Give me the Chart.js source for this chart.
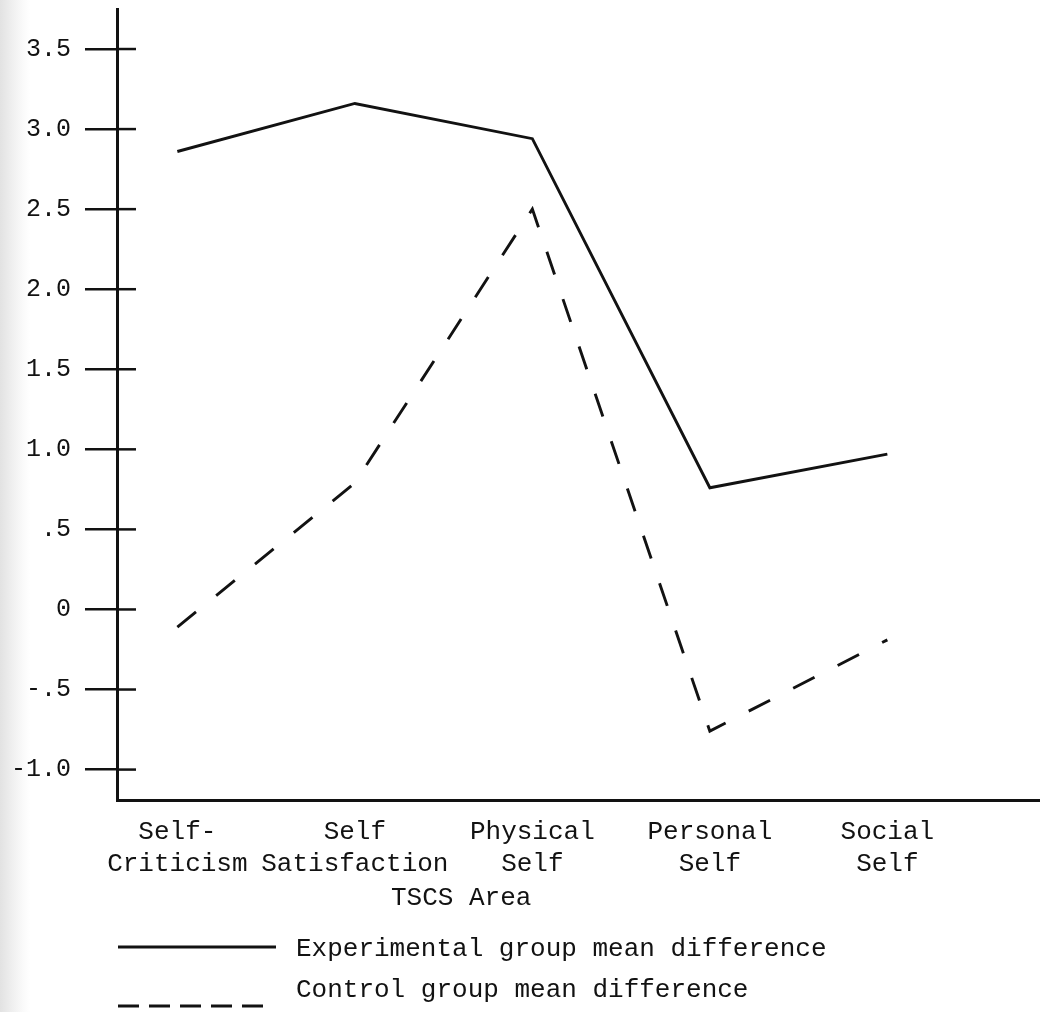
<!DOCTYPE html>
<html>
<head>
<meta charset="utf-8">
<script src="https://cdn.jsdelivr.net/npm/chart.js@4.4.1/dist/chart.umd.min.js"></script>
<style>
  html, body { margin: 0; padding: 0; }
  body {
    width: 1040px; height: 1012px; overflow: hidden;
    background: linear-gradient(to right, #e2e2e2 0px, #efefef 12px, #fbfbfb 24px, #ffffff 30px);
  }
  #chart { display: block; }
</style>
</head>
<body>
<canvas id="chart" width="1040" height="1012"></canvas>
<script>
// TSCS areas (x axis)
const areas = [
  ['Self-', 'Criticism'],
  ['Self', 'Satisfaction'],
  ['Physical', 'Self'],
  ['Personal', 'Self'],
  ['Social', 'Self']
];
// mean differences
const experimental = [2.86, 3.16, 2.94, 0.76, 0.97];
const control = [-0.11, 0.79, 2.50, -0.76, -0.19];

const yTickValues = [3.5, 3.0, 2.5, 2.0, 1.5, 1.0, 0.5, 0, -0.5, -1.0];
const yTickLabels = ['3.5', '3.0', '2.5', '2.0', '1.5', '1.0', '.5', '0', '-.5', '-1.0'];

const axisTitle = 'TSCS Area';
const seriesNames = ['Experimental group mean difference', 'Control group mean difference'];

const ink = '#121212';
const mono = '"Liberation Mono", "DejaVu Sans Mono", monospace';

function points(values) {
    return values.map((v, i) => ({ x: i, y: v }));
}

// tick stubs inside the axis, axis title and the key underneath
const extras = {
    id: 'extras',
    afterDraw(chart) {
        const ctx = chart.ctx;
        const y = chart.scales.y;
        const area = chart.chartArea;
        ctx.save();
        ctx.strokeStyle = ink;
        ctx.lineWidth = 2.5;
        yTickValues.forEach((v) => {
            const py = y.getPixelForValue(v);
            ctx.beginPath();
            ctx.moveTo(area.left, py);
            ctx.lineTo(area.left + 19, py);
            ctx.stroke();
        });

        ctx.fillStyle = ink;
        ctx.font = '26px ' + mono;
        ctx.textBaseline = 'alphabetic';
        ctx.textAlign = 'left';
        ctx.fillText(axisTitle, 391, 905);

        // key: solid sample beside the first name, dashes below the second
        const rows = [
            { lineY: 947, textY: 956, end: 276, dash: [] },
            { lineY: 1006, textY: 997, end: 263, dash: [21, 10] }
        ];
        chart.data.datasets.forEach((ds, i) => {
            ctx.beginPath();
            ctx.setLineDash(rows[i].dash);
            ctx.lineWidth = ds.borderWidth;
            ctx.moveTo(118, rows[i].lineY);
            ctx.lineTo(rows[i].end, rows[i].lineY);
            ctx.stroke();
            ctx.setLineDash([]);
            ctx.fillText(ds.label, 296, rows[i].textY);
        });
        ctx.restore();
    }
};

const ctx = document.getElementById('chart').getContext('2d');
const myChart = new Chart(ctx, {
    type: 'line',
    data: {
        datasets: [{
            label: seriesNames[0],
            data: points(experimental),
            borderColor: ink,
            borderWidth: 2.9,
            pointRadius: 0,
            tension: 0
        }, {
            label: seriesNames[1],
            data: points(control),
            borderColor: ink,
            borderWidth: 2.9,
            borderDash: [24, 26],
            pointRadius: 0,
            tension: 0
        }]
    },
    options: {
        responsive: false,
        animation: false,
        layout: { padding: { top: 9, left: 0, right: 0, bottom: 0 } },
        plugins: {
            legend: { display: false },
            tooltip: { enabled: false }
        },
        scales: {
            x: {
                type: 'linear',
                min: -0.34,
                max: 4.86,
                afterBuildTicks: (scale) => {
                    scale.ticks = areas.map((_, i) => ({ value: i }));
                },
                afterFit: (scale) => {
                    scale.height = 212;
                    scale.paddingLeft = 0;
                    scale.paddingRight = 0;
                },
                grid: { display: false, drawTicks: false },
                border: { display: true, color: ink, width: 3 },
                ticks: {
                    color: ink,
                    padding: 17,
                    maxRotation: 0,
                    autoSkip: false,
                    font: { family: mono, size: 26, lineHeight: 1.2 },
                    callback: (value) => areas[value]
                }
            },
            y: {
                min: -1.19,
                max: 3.75,
                afterBuildTicks: (scale) => {
                    scale.ticks = yTickValues.map((v) => ({ value: v }));
                },
                afterFit: (scale) => {
                    scale.width = 117;
                    scale.paddingTop = 0;
                    scale.paddingBottom = 0;
                },
                grid: {
                    drawOnChartArea: false,
                    tickLength: 32,
                    color: ink,
                    lineWidth: 2.5
                },
                border: { display: true, color: ink, width: 3 },
                ticks: {
                    color: ink,
                    padding: 14,
                    font: { family: mono, size: 25 },
                    callback: (value, index) => yTickLabels[index]
                }
            }
        }
    },
    plugins: [extras]
});
</script>
</body>
</html>
